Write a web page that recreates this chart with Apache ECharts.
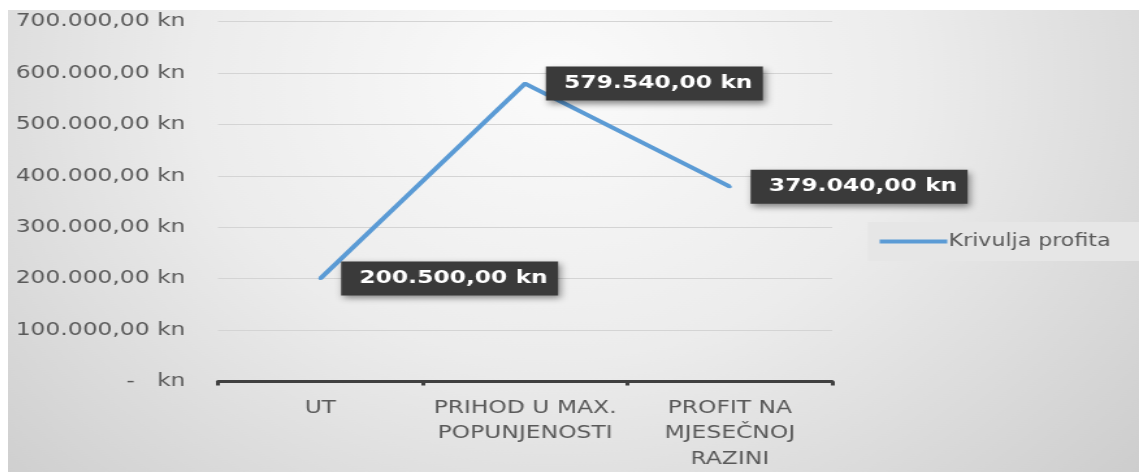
<!DOCTYPE html>
<html><head><meta charset="utf-8">
<script src="https://cdn.jsdelivr.net/npm/echarts@6/dist/echarts.min.js"></script>
<style>
html,body{margin:0;padding:0;background:#fff;overflow:hidden;}
#c{position:absolute;left:8px;top:10px;width:870px;height:462px;transform:scaleX(1.3);transform-origin:0 0;}
</style></head>
<body><div id="c"></div>
<script>
const categories = ['UT', 'PRIHOD U MAX.\nPOPUNJENOSTI', 'PROFIT NA\nMJESEČNOJ\nRAZINI'];
const seriesName = 'Krivulja profita';
const profitValues = [200500, 579540, 379040];
const yTicks = [0, 100000, 200000, 300000, 400000, 500000, 600000, 700000];

function fmtKn(v, zeroDash) {
  if (zeroDash && v === 0) return '-   kn';
  const parts = Math.round(v).toString().replace(/\B(?=(\d{3})+(?!\d))/g, '.');
  return parts + ',00 kn';
}

const chart = echarts.init(document.getElementById('c'));
chart.setOption({
  animation: false,
  backgroundColor: {
    type: 'radial', x: 420, y: 70, r: 620, global: true,
    colorStops: [
      {offset: 0, color: '#fbfbfb'},
      {offset: 0.45, color: '#ececec'},
      {offset: 1, color: '#cbcbcb'}
    ]
  },
  textStyle: {fontFamily: 'DejaVu Sans'},
  grid: {left: 161.5, right: 236, top: 11.7, bottom: 88.4},
  legend: {
    data: [seriesName],
    left: 661.5, top: 212,
    backgroundColor: '#e6e6e6',
    padding: [11, 40, 11, 9],
    icon: 'rect',
    itemWidth: 52, itemHeight: 4, itemGap: 0,
    textStyle: {color: '#595959', fontSize: 17, padding: [0, 0, 0, -4]}
  },
  xAxis: {
    type: 'category',
    data: categories,
    boundaryGap: true,
    axisLine: {lineStyle: {color: '#404040', width: 3}},
    axisTick: {show: true, length: 4, lineStyle: {color: '#404040', width: 3}},
    axisLabel: {color: '#595959', fontSize: 18, lineHeight: 25.5, margin: 14, interval: 0}
  },
  yAxis: {
    type: 'value',
    min: yTicks[0], max: yTicks[yTicks.length - 1], interval: 100000,
    axisLine: {show: false},
    axisTick: {show: false},
    splitLine: {lineStyle: {color: '#d4d4d4', width: 1}},
    axisLabel: {color: '#595959', fontSize: 18, margin: 25, formatter: v => fmtKn(v, true)}
  },
  series: [{
    name: seriesName,
    type: 'line',
    data: profitValues,
    symbol: 'circle',
    symbolSize: 3,
    showSymbol: true,
    lineStyle: {color: '#5b9bd5', width: 4},
    itemStyle: {color: '#5b9bd5'},
    label: {
      show: true,
      position: 'right',
      distance: 14.5,
      formatter: p => fmtKn(p.value, false),
      color: '#ffffff',
      fontSize: 18,
      fontWeight: 'bold',
      backgroundColor: '#3a3a3a',
      padding: [8, 8, 8, 14],
      shadowBlur: 6,
      shadowColor: 'rgba(0,0,0,0.45)',
      shadowOffsetX: 2,
      shadowOffsetY: 3
    }
  }]
});
</script></body></html>
